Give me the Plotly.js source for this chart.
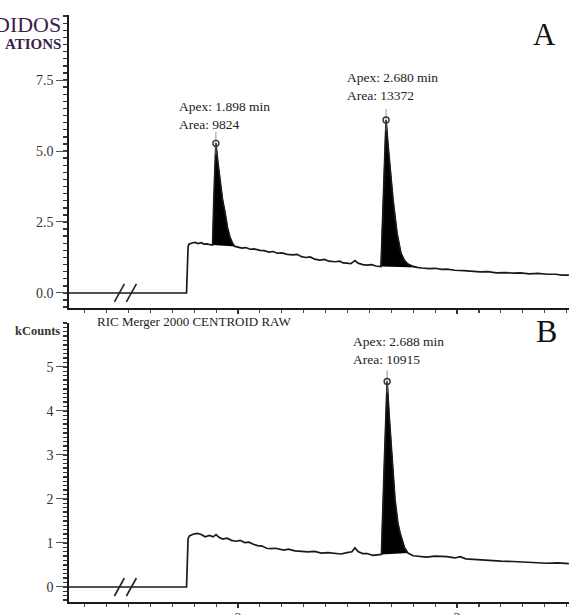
<!DOCTYPE html>
<html>
<head>
<meta charset="utf-8">
<script src="https://cdn.plot.ly/plotly-3.0.1.min.js"></script>
<style>html,body{margin:0;padding:0;background:#fff;}#chart{width:569px;height:615px;}</style>
</head>
<body>
<div id="chart"></div>
<script>
// ---- Panel A data (time in min, intensity) ----
var timeA = [1.228,1.600,1.765,1.772,1.776,1.790,1.804,1.818,1.831,1.845,1.860,1.872,
  1.884,1.890,1.899,1.908,1.918,1.929,1.941,1.952,1.963,1.975,1.986,
  2.000,2.018,2.036,2.055,2.073,2.100,2.120,2.140,2.160,2.180,2.200,2.225,2.251,2.270,2.290,2.310,2.330,2.350,2.374,2.395,2.415,2.443,2.465,2.480,2.498,2.515,2.534,2.548,2.570,2.589,2.610,2.630,
  2.653,2.665,2.676,2.685,2.694,2.708,2.726,2.744,2.760,2.776,2.795,2.817,
  2.840,2.870,2.900,2.930,2.954,2.990,3.030,3.070,3.105,3.140,3.180,3.220,3.256,3.290,3.330,3.370,3.411,3.450,3.480,3.511];
var valueA = [0.00,0.00,0.00,1.62,1.72,1.76,1.78,1.74,1.77,1.72,1.73,1.70,
  1.69,3.40,5.27,4.60,3.98,3.30,2.82,2.30,1.97,1.75,1.64,
  1.62,1.58,1.60,1.54,1.55,1.50,1.49,1.44,1.46,1.40,1.41,1.36,1.34,1.36,1.28,1.25,1.27,1.19,1.16,1.18,1.12,1.10,1.12,1.06,1.05,1.03,1.14,1.05,1.00,0.98,1.00,0.95,
  0.93,3.40,6.09,5.20,4.44,3.27,2.11,1.40,1.15,1.02,0.95,0.90,
  0.88,0.86,0.87,0.83,0.84,0.80,0.79,0.77,0.74,0.75,0.71,0.72,0.70,0.71,0.67,0.69,0.66,0.66,0.63,0.63];
var peaksA = [[1.884,1.986],[2.653,2.817]];
var labelsA = ["Apex: 1.898 min<br>Area: 9824","Apex: 2.680 min<br>Area: 13372"];

// ---- Panel B data ----
var timeB = [1.228,1.600,1.765,1.772,1.778,1.795,1.813,1.830,1.850,1.870,1.886,1.900,1.913,1.930,1.950,1.970,1.990,2.010,2.030,2.050,2.070,2.090,2.110,2.130,2.150,2.170,2.190,2.210,2.230,2.260,2.290,2.320,2.350,2.380,2.410,2.440,2.470,2.498,2.520,2.534,2.550,2.570,2.590,2.615,2.640,
  2.655,2.668,2.681,2.690,2.695,2.708,2.717,2.730,2.740,2.760,2.776,
  2.800,2.830,2.860,2.900,2.954,2.990,3.015,3.040,3.070,3.105,3.150,3.200,3.256,3.300,3.350,3.411,3.460,3.511];
var valueB = [0.00,0.00,0.00,1.10,1.16,1.20,1.22,1.20,1.14,1.17,1.14,1.19,1.13,1.09,1.11,1.06,1.04,1.06,1.01,1.02,0.97,0.94,0.93,0.88,0.87,0.88,0.86,0.84,0.86,0.82,0.81,0.80,0.81,0.77,0.78,0.76,0.75,0.78,0.80,0.89,0.80,0.76,0.76,0.72,0.73,
  0.74,2.80,4.67,3.90,3.50,2.60,1.98,1.45,1.23,0.90,0.77,
  0.71,0.70,0.68,0.70,0.69,0.66,0.69,0.64,0.63,0.61,0.60,0.59,0.58,0.57,0.56,0.54,0.55,0.53];
var peaksB = [[2.655,2.776]];
var labelsB = ["Apex: 2.688 min<br>Area: 10915"];

var breakTime = 1.495;
var yTicksA = [0,2.5,5,7.5];
var yTicksB = [0,1,2,3,4,5];
var xTicks = [2,3];

var SERIF = 'Liberation Serif';
var INK = '#1a1a1a';

// label offsets in pixels relative to each apex (style only)
var labelShiftA = [[9,9],[6,15]];
var labelShiftB = [[11,13]];

function buildPanel(t, v, peaks, labels, shifts, xa, ya) {
  var traces = [];
  peaks.forEach(function(p){
    var px=[], py=[];
    for (var i=0;i<t.length;i++){ if (t[i]>=p[0] && t[i]<=p[1]) { px.push(t[i]); py.push(v[i]); } }
    traces.push({x:px,y:py,xaxis:xa,yaxis:ya,mode:'lines',fill:'toself',fillcolor:'#000',
      line:{color:'#000',width:1},hoverinfo:'skip',showlegend:false});
  });
  traces.push({x:t,y:v,xaxis:xa,yaxis:ya,mode:'lines',line:{color:INK,width:1.7},showlegend:false});
  var ax=[],ay=[];
  peaks.forEach(function(p){
    var bi=-1;
    for (var i=0;i<t.length;i++){ if (t[i]>=p[0] && t[i]<=p[1] && (bi<0||v[i]>v[bi])) bi=i; }
    ax.push(t[bi]); ay.push(v[bi]);
  });
  traces.push({x:ax,y:ay,xaxis:xa,yaxis:ya,mode:'markers',marker:{symbol:'line-ns-open',size:16,color:'#777',line:{width:0.8}},showlegend:false});
  traces.push({x:ax,y:ay,xaxis:xa,yaxis:ya,mode:'markers',marker:{symbol:'circle-open',size:6,color:'#333',line:{width:1.4}},showlegend:false});
  var anns = ax.map(function(x,i){
    return {xref:xa,yref:ya,x:x,y:ay[i],text:labels[i],showarrow:false,xanchor:'center',yanchor:'bottom',
      xshift:shifts[i][0],yshift:shifts[i][1],align:'left',font:{family:SERIF,size:13.5,color:'#222'}};
  });
  return {traces:traces, anns:anns};
}

var A = buildPanel(timeA,valueA,peaksA,labelsA,labelShiftA,'x','y');
var B = buildPanel(timeB,valueB,peaksB,labelsB,labelShiftB,'x2','y2');

var xr=[1.2283,3.5114];
function xaxisCfg(anchor, labels){
  return {range:xr,anchor:anchor,domain:[0,1],showgrid:false,zeroline:false,showline:true,linecolor:INK,linewidth:2,
    ticks:'outside',ticklen:4,tickwidth:1.2,tickcolor:'#333',tickvals:xTicks,ticktext:xTicks.map(String),
    showticklabels:labels,ticklabelstandoff:-2,tickfont:{family:SERIF,size:14,color:'#444'},
    minor:{dtick:0.1,tick0:2,ticks:'outside',ticklen:3,tickcolor:'#444',tickwidth:1.2}};
}
function yaxisCfg(anchor, dom, range, vals, fmt, mdt){
  return {range:range,anchor:anchor,domain:dom,showgrid:false,zeroline:false,showline:true,linecolor:INK,linewidth:1.6,
    ticks:'outside',ticklen:11,tickwidth:1,tickcolor:'#555',tickvals:vals,ticktext:vals.map(function(v){return fmt(v);}),
    tickfont:{family:SERIF,size:14,color:'#333'},
    minor:{dtick:mdt,tick0:0,ticks:'outside',ticklen:4,tickcolor:'#333',tickwidth:1.4}};
}

function breakShapes(xa, ya){
  var base = {type:'line',xref:xa,yref:ya,xsizemode:'pixel',ysizemode:'pixel',xanchor:breakTime,yanchor:0,line:{color:'#222',width:1.6}};
  return [Object.assign({},base,{x0:-13,x1:-3,y0:-9,y1:9}), Object.assign({},base,{x0:-1,x1:9,y0:-9,y1:9})];
}

var layout = {
  width:569,height:615,margin:{l:69,r:0,t:15,b:13},
  paper_bgcolor:'#fff',plot_bgcolor:'#fff',showlegend:false,
  xaxis:xaxisCfg('y',false),
  xaxis2:xaxisCfg('y2',true),
  yaxis:yaxisCfg('x',[0.5009,1],[-0.528,9.79],yTicksA,function(v){return v.toFixed(1);},0.25),
  yaxis2:yaxisCfg('x2',[0,0.4753],[-0.341,6.0],yTicksB,function(v){return String(v);},0.1),
  shapes: breakShapes('x','y').concat(breakShapes('x2','y2')),
  annotations: A.anns.concat(B.anns).concat([
    {xref:'paper',yref:'paper',x:0.95,y:0.966,text:'A',showarrow:false,xanchor:'center',yanchor:'middle',font:{family:SERIF,size:31,color:'#111'}},
    {xref:'paper',yref:'paper',x:0.954,y:0.462,text:'B',showarrow:false,xanchor:'center',yanchor:'middle',font:{family:SERIF,size:32,color:'#111'}},
    {xref:'paper',yref:'paper',x:0.052,y:0.4787,text:'RIC Merger 2000 CENTROID RAW',showarrow:false,xanchor:'left',yanchor:'middle',font:{family:SERIF,size:13,color:'#222'}},
    {xref:'paper',yref:'paper',x:-0.014,y:0.461,text:'<b>kCounts</b>',showarrow:false,xanchor:'right',yanchor:'middle',font:{family:SERIF,size:12.5,color:'#333'}},
    {xref:'paper',yref:'paper',x:-0.013,y:0.984,text:'DIDOS',showarrow:false,xanchor:'right',yanchor:'middle',font:{family:SERIF,size:22,color:'#3b1e4f'}},
    {xref:'paper',yref:'paper',x:-0.013,y:0.951,text:'<b>ATIONS</b>',showarrow:false,xanchor:'right',yanchor:'middle',font:{family:SERIF,size:15,color:'#3b1e4f'}}
  ])
};

Plotly.newPlot('chart', A.traces.concat(B.traces), layout, {staticPlot:true,displayModeBar:false});
</script>
</body>
</html>
